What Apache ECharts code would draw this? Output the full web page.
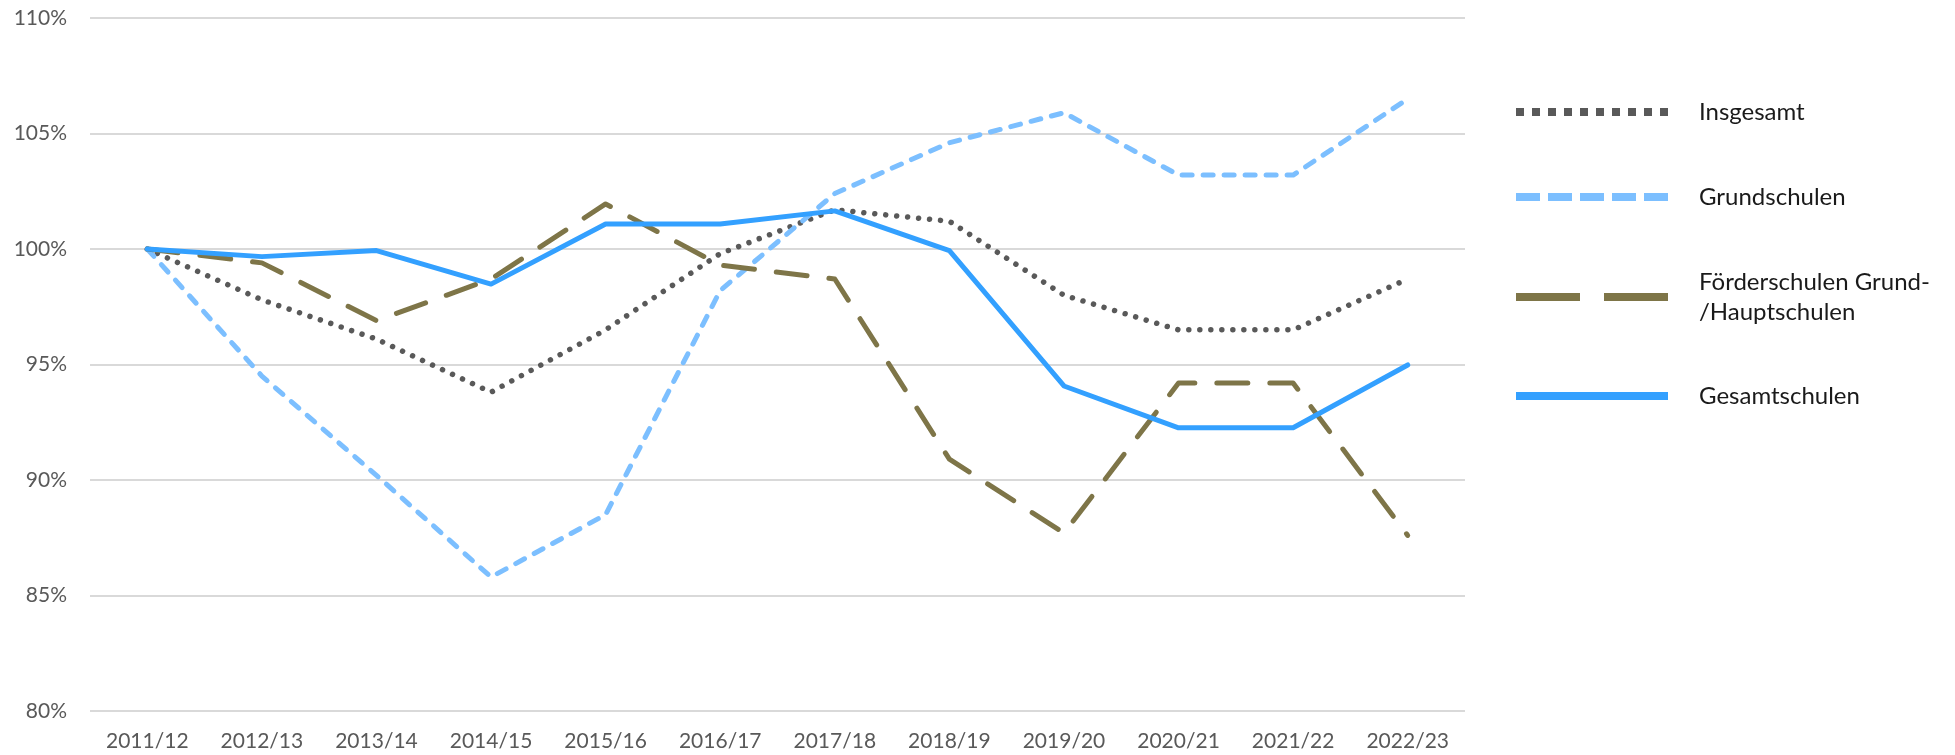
<!DOCTYPE html>
<html>
<head>
<meta charset="utf-8">
<script src="https://cdn.jsdelivr.net/npm/echarts@6/dist/echarts.min.js"></script>
<style>
  html, body { margin: 0; background: #fff; }
  #chart { width: 1955px; height: 755px; }
</style>
</head>
<body>
<div id="chart"></div>
<script>
// Schuljahre und Indexwerte (2011/12 = 100 %)
const years = ["2011/12", "2012/13", "2013/14", "2014/15", "2015/16", "2016/17",
  "2017/18", "2018/19", "2019/20", "2020/21", "2021/22", "2022/23"];
const insgesamt = [100, 97.8, 96.1, 93.8, 96.5, 99.8, 101.7, 101.2, 98.0, 96.5, 96.5, 98.7];
const grundschulen = [100, 94.5, 90.2, 85.8, 88.5, 98.2, 102.4, 104.6, 105.9, 103.2, 103.2, 106.5];
const foerderschulen = [100, 99.4, 96.9, 98.7, 101.95, 99.3, 98.7, 90.9, 87.7, 94.2, 94.2, 87.6];
const gesamtschulen = [100, 99.67, 99.93, 98.48, 101.08, 101.08, 101.65, 99.93, 94.07, 92.26, 92.26, 94.98];

const yTicks = { min: 80, max: 110, interval: 5 };

const names = ["Insgesamt", "Grundschulen", "Förderschulen Grund-\n/Hauptschulen", "Gesamtschulen"];
const colors = ["#595959", "#7cbfff", "#7e7548", "#33a0ff"];
const values = [insgesamt, grundschulen, foerderschulen, gesamtschulen];
// Strichmuster im Diagramm und in der Legende
const chartDash = [[0.01, 11], [10, 11], [31, 22], "solid"];
const chartWidth = [5.5, 5, 5, 5];
const legendDash = [[8, 8], [24, 8], [64, 24], "solid"];
const legendTops = [97, 182, 267, 381];

const font = "Lato, 'Open Sans', sans-serif";
const none = "rgba(0,0,0,0)";

const chart = echarts.init(document.getElementById("chart"), null, { renderer: "canvas" });

chart.setOption({
  animation: false,
  grid: { left: 90, right: 490, top: 18, bottom: 44 },
  xAxis: {
    type: "category",
    data: years,
    boundaryGap: true,
    axisLine: { show: false },
    axisTick: { show: false },
    axisLabel: { color: "#595959", fontFamily: font, fontSize: 21, margin: 20 },
  },
  yAxis: {
    type: "value",
    min: yTicks.min,
    max: yTicks.max,
    interval: yTicks.interval,
    axisLine: { show: false },
    axisTick: { show: false },
    axisLabel: { color: "#595959", fontFamily: font, fontSize: 21, margin: 23, formatter: "{value}%" },
    splitLine: { lineStyle: { color: "#d9d9d9", width: 2 } },
  },
  legend: names.map((name, i) => ({
    data: [{
      name,
      lineStyle: { width: 8, type: legendDash[i], cap: "butt", color: colors[i] },
      itemStyle: { color: none, borderColor: none, borderWidth: 0, opacity: 0 },
    }],
    orient: "vertical",
    left: 1512,
    top: legendTops[i],
    padding: 0,
    itemWidth: 152,
    itemHeight: 8,
    selectedMode: false,
    textStyle: { fontFamily: font, fontSize: 24, color: "#1a1a1a", lineHeight: 30, padding: [0, 0, 0, 26] },
  })),
  series: names.map((name, i) => ({
    name,
    type: "line",
    data: values[i],
    symbol: "none",
    z: 2 + i,
    lineStyle: { color: colors[i], width: chartWidth[i], type: chartDash[i], cap: "round", join: "round" },
    itemStyle: { color: colors[i] },
  })),
});
</script>
</body>
</html>
